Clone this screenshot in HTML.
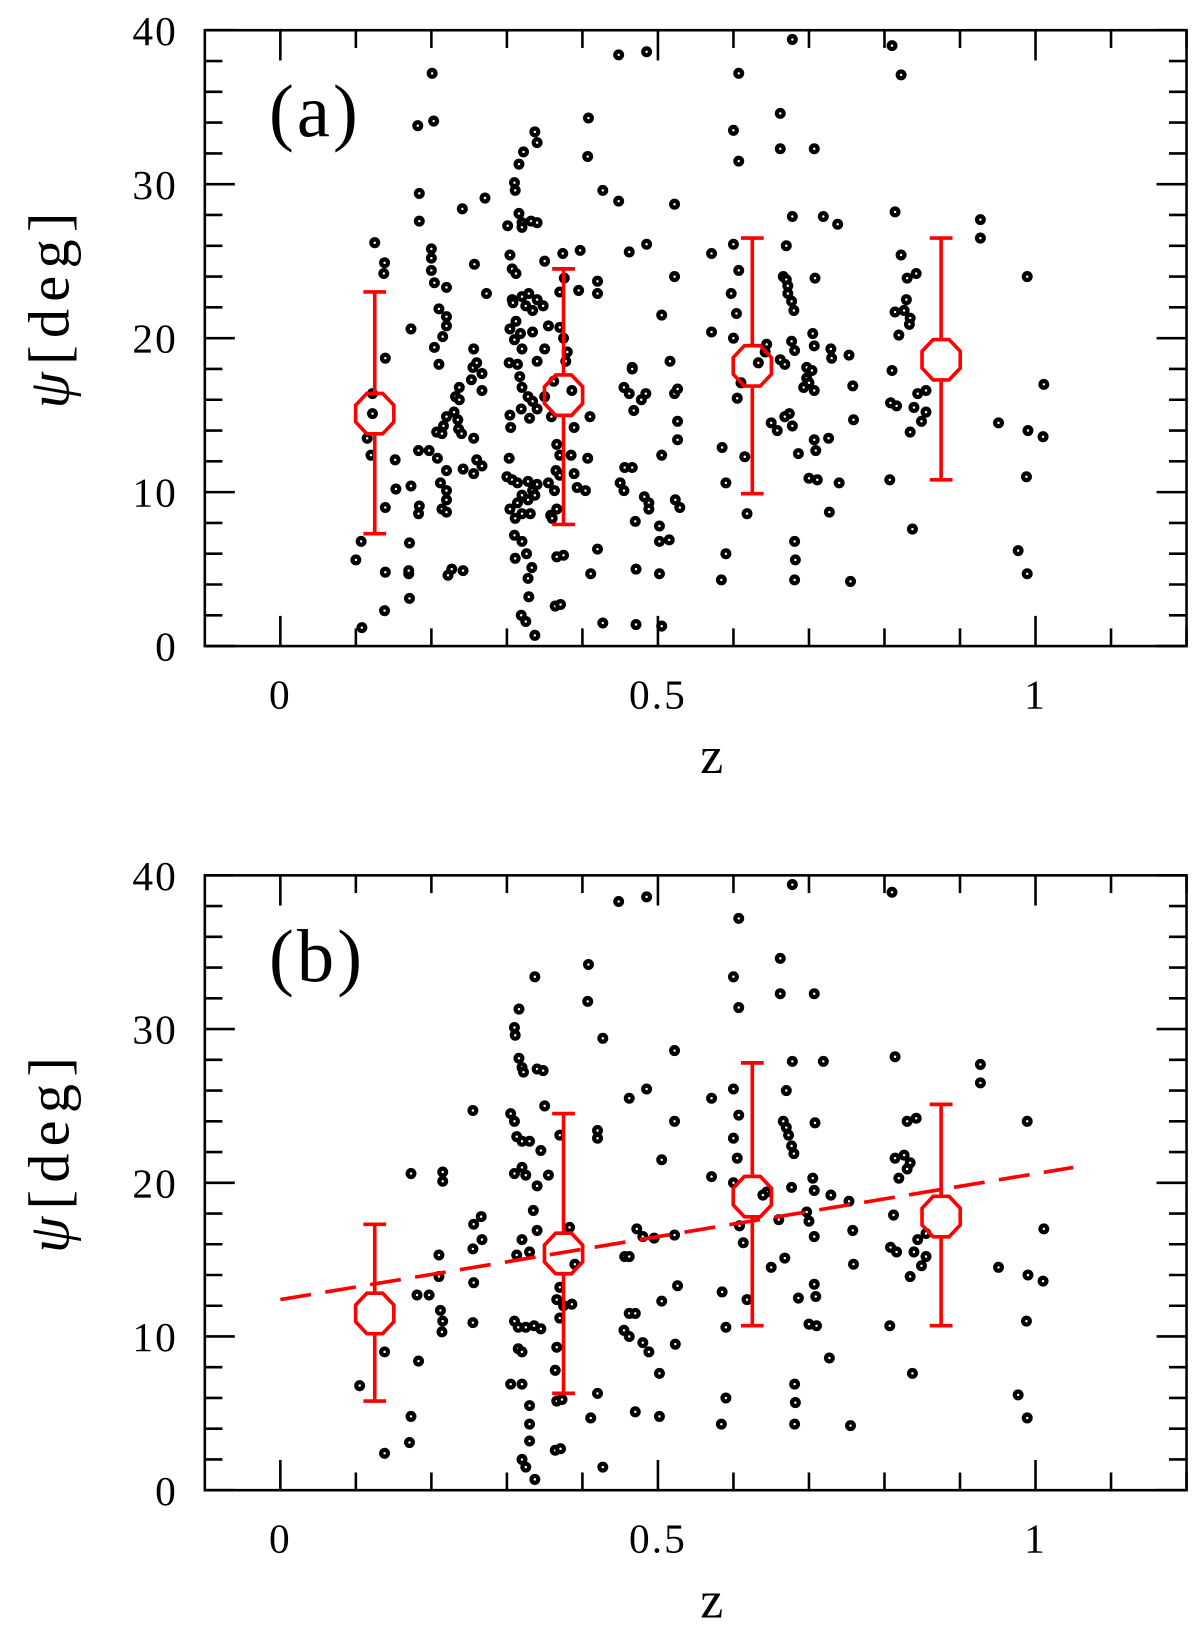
<!DOCTYPE html>
<html><head><meta charset="utf-8">
<style>
html,body{margin:0;padding:0;background:#fff;}
svg{display:block;}
text{font-family:"Liberation Serif","DejaVu Serif",serif;fill:#000;}
</style></head>
<body>
<svg id="fig" width="1200" height="1634" viewBox="0 0 1160 1568" preserveAspectRatio="none" xmlns="http://www.w3.org/2000/svg"></svg>
<script>
// Panel (a) data
const ptsAz = [0.107,0.10,0.108,0.125,0.138,0.137,0.139,0.115,0.12,0.139,0.139,0.138,0.122,0.122,0.152,
0.173,0.184,0.184,0.182,0.203,0.201,0.17,0.17,0.171,0.171,0.153,0.173,0.184,0.183,0.183,0.197,0.2,0.2,0.2,0.204,0.22,0.204,0.21,0.21,0.22,0.22,0.215,0.207,0.214,0.216,0.22,0.208,0.22,0.212,0.22,0.22,0.214,0.22,0.222,0.227,0.242,0.23,0.235,0.236,0.24,0.237,0.232,0.237,0.242,0.256,0.256,0.253,0.255,0.26,0.267,0.256,0.241,0.257,0.271,0.273,0.267,0.267,0.26,
0.301,0.311,0.31,0.316,0.322,0.316,0.32,0.32,0.304,0.307,0.312,0.329,0.32,0.307,0.337,0.34,0.332,0.34,0.35,0.308,0.325,0.34,0.334,0.348,0.355,0.334,0.318,0.31,0.312,0.304,0.32,0.35,0.34,0.303,0.314,0.317,0.32,0.328,0.334,0.319,0.304,0.305,0.33,0.34,0.35,0.362,0.359,0.303,0.3,0.307,0.314,0.328,0.34,0.355,0.32,0.328,0.334,0.304,0.314,0.311,0.32,0.331,0.31,0.32,0.326,0.333,0.328,0.329,0.319,0.325,0.337,0.311,0.337,0.364,0.371,0.366,0.375,0.366,0.37,0.365,0.363,0.366,0.358,0.36,0.37,0.37,0.37,0.375,0.376,0.374,0.378,0.38,0.386,0.389,0.385,0.389,0.393,0.397,0.408,0.407,0.395,0.41,0.407,0.404,0.411,0.42,0.427,0.42,0.42,0.427,
0.448,0.448,0.485,0.462,0.485,0.455,0.45,0.455,0.456,0.466,0.466,0.466,0.468,0.462,0.478,0.482,0.488,0.488,0.47,0.484,0.471,0.471,0.505,0.502,0.502,0.502,0.505,0.515,0.505,0.516,0.522,0.522,0.522,0.526,0.526,0.523,0.529,0.526,
0.571,0.571,0.584,0.59,0.585,0.59,0.6,0.607,0.607,0.6,0.607,0.597,0.604,0.6,0.605,0.61,0.615,0.618,0.644,0.642,0.633,0.65,0.658,0.662,0.662,0.67,0.666,0.67,0.672,0.672,0.677,0.68,0.678,0.678,0.677,0.681,0.662,0.668,0.674,0.668,0.678,0.681,0.682,0.681,0.686,0.697,0.697,0.7,0.693,0.705,0.707,0.704,0.707,0.708,0.707,0.7,0.711,0.707,0.709,0.719,0.729,0.73,0.726,0.727,0.738,0.74,0.753,0.758,0.759,0.755,
0.814,0.822,0.81,0.81,0.808,0.816,0.807,0.814,0.819,0.822,0.829,0.83,0.826,0.834,0.833,0.842,0.834,0.837,0.849,0.839,0.844,0.855,0.855,0.927,0.927,0.951,0.977,0.989,0.988,0.989,0.99,1.011,1.01];
const ptsApsi = [6.8,5.6,1.2,26.2,24.9,24.2,18.7,13.5,12.4,9.0,4.8,2.3,15.1,16.4,12.1,
20.6,29.4,27.6,33.8,34.1,37.2,4.7,4.9,3.1,6.7,10.2,10.4,9.1,8.6,12.7,12.7,25.8,25.2,24.4,23.6,23.3,19.4,18.3,21.9,21.4,20.8,20.1,13.9,13.8,14.3,14.9,12.2,11.4,10.6,10.1,9.5,8.9,8.7,4.6,5.0,4.9,15.2,14.7,14.1,13.8,16.8,16.2,16.0,11.5,11.2,13.5,17.3,18.1,18.4,17.7,19.3,28.4,24.8,29.1,22.9,16.6,11.7,12.1,
27.3,29.6,30.1,31.3,32.1,28.1,27.5,27.2,25.4,24.5,24.2,22.9,22.7,22.5,33.4,32.7,27.6,27.5,25.0,22.3,22.1,22.5,21.8,22.1,20.8,20.4,20.3,19.9,21.1,20.6,19.3,19.3,18.5,18.4,18.3,17.5,16.8,16.2,15.9,15.4,15.0,14.2,14.8,15.4,16.2,17.2,14.9,12.2,11.0,10.8,10.6,10.7,10.5,10.6,9.8,9.5,10.1,8.9,9.3,8.3,8.6,8.6,7.2,6.8,6.0,5.1,4.4,3.2,2.0,1.6,0.7,5.7,9.8,2.6,2.7,5.8,5.9,13.1,12.4,11.4,10.1,8.9,8.5,8.3,11.1,23.0,20.7,20.0,23.9,25.5,18.5,19.1,16.6,14.2,12.4,11.2,10.3,25.7,34.3,31.8,23.1,14.9,12.2,10.1,4.7,6.3,1.5,23.7,22.9,29.6,
28.9,38.4,38.6,25.6,26.1,16.8,10.6,10.1,11.6,11.6,18.1,18.0,15.3,16.4,16.0,9.7,9.3,8.9,8.1,16.4,5.0,1.4,21.5,7.8,6.8,4.7,1.3,6.9,12.4,18.5,28.7,24.0,16.4,14.6,13.4,9.5,9.0,16.7,
25.5,20.4,4.3,6.0,12.9,10.6,33.5,37.2,31.5,26.1,24.4,22.9,21.6,20.0,16.1,17.1,12.3,8.6,19.6,19.1,18.4,14.5,14.0,34.6,32.3,26.0,24.0,23.8,23.4,22.9,22.4,21.8,39.4,27.9,19.8,19.2,18.6,18.3,15.1,14.9,14.3,6.8,5.6,4.3,12.5,18.1,17.4,17.1,16.8,20.3,19.5,17.9,16.6,23.9,32.3,10.9,10.8,13.4,12.7,27.9,19.3,18.7,13.5,8.7,27.4,10.6,18.9,16.9,14.7,4.2,
28.2,37.1,39.0,17.9,15.8,15.6,10.8,21.7,20.2,25.4,22.5,23.9,21.8,21.3,20.9,24.2,13.9,7.6,14.6,15.5,16.4,16.6,15.2,27.7,26.5,14.5,6.2,24.0,11.0,4.7,14.0,17.0,13.6];
const binsZ = [0.125,0.375,0.625,0.875];
const binsAmean = [15.1,16.3,18.2,18.6];
const binsAlo = [7.3,7.9,9.9,10.8];
const binsAhi = [23.0,24.5,26.5,26.5];
// Panel (b) data
const ptsBz = [0.105,0.138,0.138,0.173,0.171,0.173,0.183,0.181,0.197,0.215,0.215,0.21,0.21,0.212,0.215,0.214,0.255,0.256,0.266,0.267,0.255,0.256,0.255,
0.316,0.31,0.311,0.316,0.32,0.322,0.337,0.34,0.348,0.35,0.305,0.31,0.313,0.32,0.33,0.345,0.31,0.32,0.325,0.355,0.34,0.335,0.34,0.32,0.313,0.33,0.31,0.315,0.325,0.336,0.345,0.315,0.32,0.305,0.32,0.33,0.33,0.33,0.32,0.325,0.337,0.364,0.371,0.366,0.373,0.366,0.364,0.37,0.366,0.375,0.37,0.37,0.383,0.39,0.386,0.408,0.407,0.427,0.42,0.42,0.411,0.42,0.427,
0.448,0.485,0.462,0.485,0.472,0.48,0.495,0.456,0.462,0.455,0.462,0.462,0.47,0.48,0.488,0.47,0.502,0.502,0.505,0.505,0.522,0.522,0.522,0.526,0.523,
0.571,0.571,0.584,0.59,0.585,0.59,0.6,0.607,0.607,0.6,0.607,0.6,0.605,0.6,0.613,0.608,0.618,0.644,0.639,0.65,0.662,0.662,0.67,0.666,0.67,0.673,0.677,0.68,0.678,0.678,0.677,0.66,0.668,0.681,0.682,0.681,0.686,0.697,0.7,0.705,0.707,0.707,0.708,0.707,0.7,0.71,0.707,0.709,0.719,0.729,0.727,0.753,0.758,0.759,0.755,
0.814,0.81,0.812,0.808,0.816,0.807,0.814,0.819,0.826,0.834,0.83,0.83,0.842,0.834,0.837,0.849,0.839,0.844,0.855,0.855,0.927,0.927,0.951,0.977,0.989,0.988,0.989,0.99,1.011,1.01];
const ptsBpsi = [6.8,2.4,9.0,4.8,3.1,20.6,8.4,12.7,12.7,20.7,20.1,13.9,15.3,11.7,11.0,10.3,24.7,17.3,17.8,16.3,15.7,13.5,10.9,
31.3,30.1,29.6,28.1,27.5,27.2,33.4,27.4,27.3,25.0,24.5,24.0,23.0,22.7,22.7,22.1,20.6,21.0,20.5,20.5,19.8,18.2,16.9,16.3,15.3,15.5,11.0,10.6,10.6,10.7,10.5,9.2,9.0,6.9,6.9,5.5,4.3,3.2,2.0,1.5,0.7,2.6,2.7,5.8,5.9,9.3,7.8,11.2,12.4,12.0,13.2,23.1,17.1,14.7,12.1,34.2,31.8,29.4,23.4,22.9,4.7,6.3,1.5,
38.3,38.6,25.5,26.1,17.0,16.5,16.4,15.2,15.2,10.4,10.0,11.5,11.5,9.6,9.0,5.1,4.8,7.6,12.3,21.5,28.6,24.0,16.6,13.3,9.5,
25.5,20.4,4.3,6.0,12.9,10.6,33.4,37.2,31.4,26.1,24.4,22.9,21.6,20.0,16.1,17.2,12.4,19.4,19.2,14.5,34.6,32.3,26.0,24.0,23.6,23.1,22.4,21.9,39.4,27.9,19.7,17.6,15.1,6.9,5.7,4.3,12.5,18.1,17.5,20.3,19.5,16.5,23.9,32.3,10.8,10.7,13.4,12.6,27.9,19.2,8.6,18.8,16.9,14.7,4.2,
28.2,38.9,17.9,15.8,15.5,10.7,21.6,20.3,21.8,21.3,20.9,24.0,24.2,13.9,7.6,14.6,15.5,16.3,16.7,15.2,27.7,26.5,14.5,6.2,24.0,11.0,4.7,14.0,17.0,13.6];
const binsBmean = [11.5,15.4,19.1,17.8];
const binsBlo = [5.8,6.3,10.7,10.7];
const binsBhi = [17.3,24.5,27.8,25.1];
const fitZ = [0,1.05];
const fitPsi = [12.4,21.0];
const xTicks = [0,0.5,1];
const xTickLabels = ["0","0.5","1"];
const yTicks = [0,10,20,30,40];
const yTickLabels = ["0","10","20","30","40"];

const NS = "http://www.w3.org/2000/svg";
const svg = document.getElementById('fig');
function mk(tag, attrs, parent){
  const e = document.createElementNS(NS, tag);
  for (const k in attrs) e.setAttribute(k, attrs[k]);
  (parent||svg).appendChild(e);
  return e;
}
const L = 198, R = 1147;
const zMin = -0.1, zMax = 1.2;
function xs(z){ return L + (z - zMin) / (zMax - zMin) * (R - L); }

function panel(top, bottom, label, pz, ppsi, mean, lo, hi, fit, key){
  const g = mk('g', {});
  
  
  const ys = v => bottom - v / 40 * (bottom - top);
  const tg = mk('g', {stroke:'#000','stroke-width':2.5}, g);
  
  
  for (let i = 0; i <= 12; i++){
    const z = i / 10;
    const len = (i % 5 === 0) ? 29 : 17;
    const x = xs(z);
    mk('line', {x1:x, x2:x, y1:bottom, y2:bottom-len}, tg);
    mk('line', {x1:x, x2:x, y1:top, y2:top+len}, tg);
  }
  for (let v = 0; v <= 40; v += 2){
    const len = (v % 10 === 0) ? 29 : 17;
    const y = ys(v);
    mk('line', {x1:L, x2:L+len, y1:y, y2:y}, tg);
    mk('line', {x1:R, x2:R-len, y1:y, y2:y}, tg);
  }
  const frame = mk('rect', {x:L, y:top, width:R-L, height:bottom-top, fill:'none', stroke:'#000', 'stroke-width':2.5}, g);
  
  
  xTicks.forEach((z, i) => {
    const t = mk('text', {x:xs(z), y:bottom+60, 'font-size':40, 'text-anchor':'middle', 'letter-spacing':2}, g);
    
    
    t.textContent = xTickLabels[i];
  });
  yTicks.forEach((v, i) => {
    const t = mk('text', {x:172, y:ys(v)+14, 'font-size':40, 'text-anchor':'end', 'letter-spacing':2}, g);
    
    
    t.textContent = yTickLabels[i];
  });
  const xt = mk('text', {x:688, y:bottom+122, 'font-size':50, 'text-anchor':'middle'}, g);
  
  
  xt.textContent = 'z';
  const cy = (top + bottom) / 2 - 30;
  const yt = mk('text', {x:0, y:0, 'font-size':56, 'text-anchor':'middle', 'letter-spacing':7, transform:'translate(66,'+cy+') rotate(-90)'}, g);
  
  
  const psi = mk('tspan', {'font-style':'italic'}, yt); psi.textContent = 'ψ';
  const rest = mk('tspan', {}, yt); rest.textContent = '[deg]';
  const pl = mk('text', {x:260, y:top+102, 'font-size':72, 'letter-spacing':3}, g);
  
  
  pl.textContent = label;
  const pg = mk('g', {}, g);
  
  
  pz.forEach((z, i) => {
    const c = mk('circle', {cx:xs(z), cy:ys(ppsi[i]), r:5.3, fill:'#000'}, pg);
    
    
    mk('circle', {cx:xs(z), cy:ys(ppsi[i]), r:1.2, fill:'#fff'}, pg);
  });
  if (fit){
    const fl = mk('line', {x1:xs(fitZ[0]), y1:ys(fitPsi[0]), x2:xs(fitZ[1]), y2:ys(fitPsi[1]), stroke:'#f00', 'stroke-width':3.5, 'stroke-dasharray':'30 14'}, g);
    
    
  }
  binsZ.forEach((z, i) => {
    const bg = mk('g', {stroke:'#f00', 'stroke-width':3.5, fill:'none'}, g);
    
    
    const x = xs(z), y0 = ys(lo[i]), y1 = ys(hi[i]), ym = ys(mean[i]);
    const rx = 20, ry = 21;
    mk('line', {x1:x, x2:x, y1:y1, y2:ym-ry}, bg);
    mk('line', {x1:x, x2:x, y1:ym+ry, y2:y0}, bg);
    mk('line', {x1:x-11, x2:x+11, y1:y0, y2:y0}, bg);
    mk('line', {x1:x-11, x2:x+11, y1:y1, y2:y1}, bg);
    const pts = [];
    for (let k = 0; k < 8; k++){
      const a = Math.PI/8 + k*Math.PI/4;
      pts.push((x + rx*Math.cos(a)).toFixed(1) + ',' + (ym + ry*Math.sin(a)).toFixed(1));
    }
    mk('polygon', {points:pts.join(' ')}, bg);
  });
}
panel(29, 620, '(a)', ptsAz, ptsApsi, binsAmean, binsAlo, binsAhi, false, 'a');
panel(840, 1430, '(b)', ptsBz, ptsBpsi, binsBmean, binsBlo, binsBhi, true, 'b');
</script>
</body></html>
